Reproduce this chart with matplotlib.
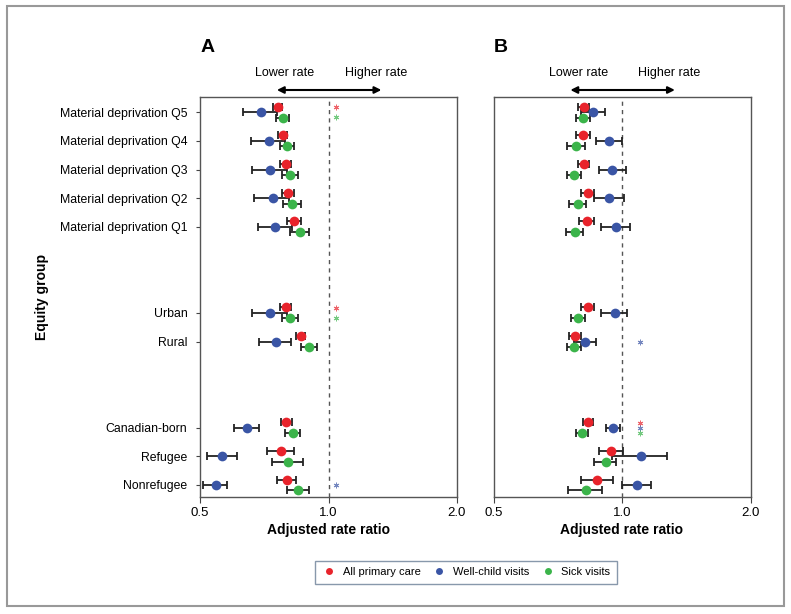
import matplotlib
matplotlib.use("Agg")
import matplotlib.pyplot as plt
import numpy as np
from matplotlib.patches import Rectangle

plt.rcParams["font.family"] = ["Liberation Sans", "DejaVu Sans"]

groups = ["Material deprivation Q5", "Material deprivation Q4", "Material deprivation Q3",
          "Material deprivation Q2", "Material deprivation Q1", "Urban", "Rural",
          "Canadian-born", "Refugee", "Nonrefugee"]
rows = [0, 1, 2, 3, 4, 7, 8, 11, 12, 13]

series_names = ["All primary care", "Well-child visits", "Sick visits"]
series_colors = ["#e8232b", "#3a55a5", "#3bb44a"]

# panel A: estimate, lower, upper
a_all = [0.760, 0.781, 0.794, 0.804, 0.830, 0.794, 0.861, 0.797, 0.773, 0.800]
a_all_lo = [0.741, 0.762, 0.768, 0.779, 0.800, 0.770, 0.840, 0.773, 0.719, 0.759]
a_all_hi = [0.779, 0.800, 0.818, 0.830, 0.861, 0.816, 0.881, 0.822, 0.832, 0.840]
a_well = [0.694, 0.724, 0.729, 0.741, 0.751, 0.729, 0.753, 0.644, 0.564, 0.544]
a_well_lo = [0.631, 0.659, 0.662, 0.670, 0.683, 0.662, 0.688, 0.600, 0.519, 0.509]
a_well_hi = [0.759, 0.789, 0.799, 0.809, 0.822, 0.798, 0.818, 0.688, 0.610, 0.579]
a_sick = [0.782, 0.800, 0.812, 0.821, 0.856, 0.812, 0.900, 0.824, 0.804, 0.850]
a_sick_lo = [0.753, 0.771, 0.779, 0.781, 0.812, 0.778, 0.861, 0.789, 0.739, 0.800]
a_sick_hi = [0.809, 0.832, 0.850, 0.861, 0.900, 0.850, 0.941, 0.859, 0.870, 0.900]

# panel B
b_all = [0.814, 0.811, 0.814, 0.832, 0.828, 0.832, 0.777, 0.832, 0.942, 0.874]
b_all_lo = [0.789, 0.781, 0.789, 0.801, 0.792, 0.801, 0.752, 0.811, 0.881, 0.800]
b_all_hi = [0.839, 0.841, 0.839, 0.862, 0.862, 0.862, 0.803, 0.853, 1.003, 0.952]
b_well = [0.855, 0.934, 0.950, 0.934, 0.968, 0.961, 0.821, 0.954, 1.110, 1.084]
b_well_lo = [0.800, 0.869, 0.881, 0.860, 0.891, 0.891, 0.770, 0.919, 0.947, 1.002]
b_well_hi = [0.910, 1.000, 1.022, 1.011, 1.042, 1.029, 0.870, 0.987, 1.278, 1.170]
b_sick = [0.811, 0.781, 0.772, 0.788, 0.774, 0.790, 0.772, 0.804, 0.915, 0.825]
b_sick_lo = [0.781, 0.743, 0.743, 0.752, 0.740, 0.761, 0.743, 0.781, 0.860, 0.749]
b_sick_hi = [0.841, 0.821, 0.803, 0.825, 0.811, 0.821, 0.801, 0.831, 0.970, 0.899]

# significance flags: (group index, series index)
a_signif = [(0, 0), (0, 2), (5, 0), (5, 2), (9, 1)]
b_signif = [(6, 1), (7, 0), (7, 1), (7, 2)]

offsets = [-0.19, 0.0, 0.19]

fig = plt.figure(figsize=(7.91, 6.14), dpi=100)
ax_a = fig.add_axes([200 / 791, 117 / 614, 257 / 791, 400 / 614])
ax_b = fig.add_axes([493.5 / 791, 117 / 614, 257 / 791, 400 / 614])

panels = [
    (ax_a, [(a_all, a_all_lo, a_all_hi), (a_well, a_well_lo, a_well_hi),
            (a_sick, a_sick_lo, a_sick_hi)], a_signif, 1.04, "A"),
    (ax_b, [(b_all, b_all_lo, b_all_hi), (b_well, b_well_lo, b_well_hi),
            (b_sick, b_sick_lo, b_sick_hi)], b_signif, 1.10, "B"),
]

for ax, data, signif, star_x, letter in panels:
    ax.set_xscale("log")
    ax.set_xlim(0.5, 2.0)
    ax.set_ylim(13.42, -0.53)
    ax.axvline(1.0, color="#555555", lw=1, ls=(0, (3, 3)), zorder=1)
    for k, (est, lo, hi) in enumerate(data):
        est = np.array(est)
        y = np.array(rows) + offsets[k]
        err = [est - np.array(lo), np.array(hi) - est]
        ax.errorbar(est, y, xerr=err, fmt="none", ecolor="#222222",
                    elinewidth=1.3, capsize=2.6, capthick=1.3, zorder=2)
        ax.plot(est, y, "o", color=series_colors[k], ms=7, mec="none", zorder=3)
    for g, k in signif:
        ax.plot(star_x, rows[g] + offsets[k] * 0.9, marker=(6, 2, 0),
                color=series_colors[k], ms=4, mew=0.7, alpha=0.7, zorder=3)

    ax.set_xticks([0.5, 1.0, 2.0])
    ax.set_xticklabels(["0.5", "1.0", "2.0"])
    ax.xaxis.set_minor_locator(matplotlib.ticker.NullLocator())
    ax.tick_params(axis="x", labelsize=9.5, length=4, color="#444444", pad=3)
    ax.set_xlabel("Adjusted rate ratio", fontsize=10, fontweight="bold", labelpad=3)
    for sp in ax.spines.values():
        sp.set_color("#555555")
        sp.set_linewidth(1)

    trans = ax.get_xaxis_transform()
    ax.annotate("", xy=(0.757, 1.0175), xytext=(1.33, 1.0175), xycoords=trans,
                textcoords=trans,
                arrowprops=dict(arrowstyle="<|-|>", color="black", lw=1.5,
                                mutation_scale=10, shrinkA=0, shrinkB=0),
                annotation_clip=False)
    ax.text(0.79, 1.06, "Lower rate", transform=trans, ha="center", va="center",
            fontsize=9)
    ax.text(1.29, 1.06, "Higher rate", transform=trans, ha="center", va="center",
            fontsize=9)
    ax.text(0.03, 1.125, letter, transform=ax.transAxes, ha="center", va="center",
            fontsize=14, fontweight="bold")

ax_a.set_yticks(rows)
ax_a.set_yticklabels(groups)
ax_a.tick_params(axis="y", labelsize=8.8, length=3, color="#444444", pad=6)
ax_a.set_ylabel("Equity group", fontsize=10, fontweight="bold", labelpad=8)
ax_b.set_yticks([])

handles = [plt.Line2D([], [], ls="none", marker="o", ms=5, color=c, mec="none")
           for c in series_colors]
leg = fig.legend(handles, series_names, loc="center", bbox_to_anchor=(0.589, 0.068),
                 ncol=3, fontsize=8, frameon=True, fancybox=False,
                 handletextpad=0.5, columnspacing=1.0, borderpad=0.6,
                 handlelength=1.4)
leg.get_frame().set_edgecolor("#6b7f96")
leg.get_frame().set_linewidth(1)

fig.patches.append(Rectangle((7 / 791, 8 / 614), 777 / 791, 600 / 614,
                             transform=fig.transFigure, fill=False,
                             edgecolor="#999999", lw=1.5))

fig.savefig("out.png", dpi=100)
